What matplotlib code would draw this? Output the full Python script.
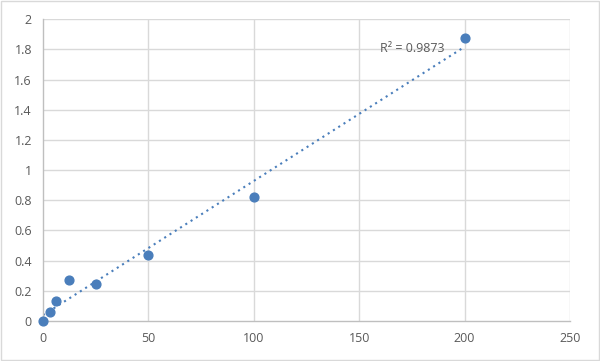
import matplotlib
matplotlib.use("Agg")
import matplotlib.pyplot as plt
import numpy as np

conc = [0, 3.125, 6.25, 12.5, 25, 50, 100, 200]
od = [0.0, 0.06, 0.13, 0.27, 0.245, 0.44, 0.82, 1.875]
r2_label = "R² = 0.9873"
xticks = [0, 50, 100, 150, 200, 250]
yticks = [0, 0.2, 0.4, 0.6, 0.8, 1, 1.2, 1.4, 1.6, 1.8, 2]

plt.rcParams['font.family'] = ['Open Sans', 'DejaVu Sans']
fig = plt.figure(figsize=(6, 3.61), dpi=100)
ax = fig.add_axes([0.0717, 0.1108, 0.8783, 0.8362])

grid_c = '#d9d9d9'
for x in xticks[1:]:
    ax.axvline(x, color=grid_c, lw=1, zorder=0)
for y in yticks[1:]:
    ax.axhline(y, color=grid_c, lw=1, zorder=0)

slope, intercept = np.polyfit(conc, od, 1)
xs = np.array([0, 200])
ax.plot(xs, slope * xs + intercept, linestyle=(0, (1, 2)), color='#4a7ebb', lw=1.5, zorder=2)
ax.scatter(conc, od, s=40, color='#4a7ebb', zorder=3, clip_on=False)

ax.set_xlim(0, 250)
ax.set_ylim(0, 2)
ax.set_xticks(xticks)
ax.set_yticks(yticks)
ax.set_xticklabels([str(v) for v in xticks])
ax.set_yticklabels(['0', '0.2', '0.4', '0.6', '0.8', '1', '1.2', '1.4', '1.6', '1.8', '2'])
ax.tick_params(length=0, labelsize=9, colors='#595959', pad=8)
for s in ['top', 'right']:
    ax.spines[s].set_visible(False)
for s in ['left', 'bottom']:
    ax.spines[s].set_color('#bfbfbf')
    ax.spines[s].set_linewidth(1)

ax.text(160, 1.805, r2_label, fontsize=9, color='#595959', ha='left', va='center')

fig.patches.append(plt.Rectangle((0.002, 0.003), 0.996, 0.994, transform=fig.transFigure,
                                 fill=False, edgecolor='#d9d9d9', lw=1))
fig.savefig('out.png', dpi=100)
